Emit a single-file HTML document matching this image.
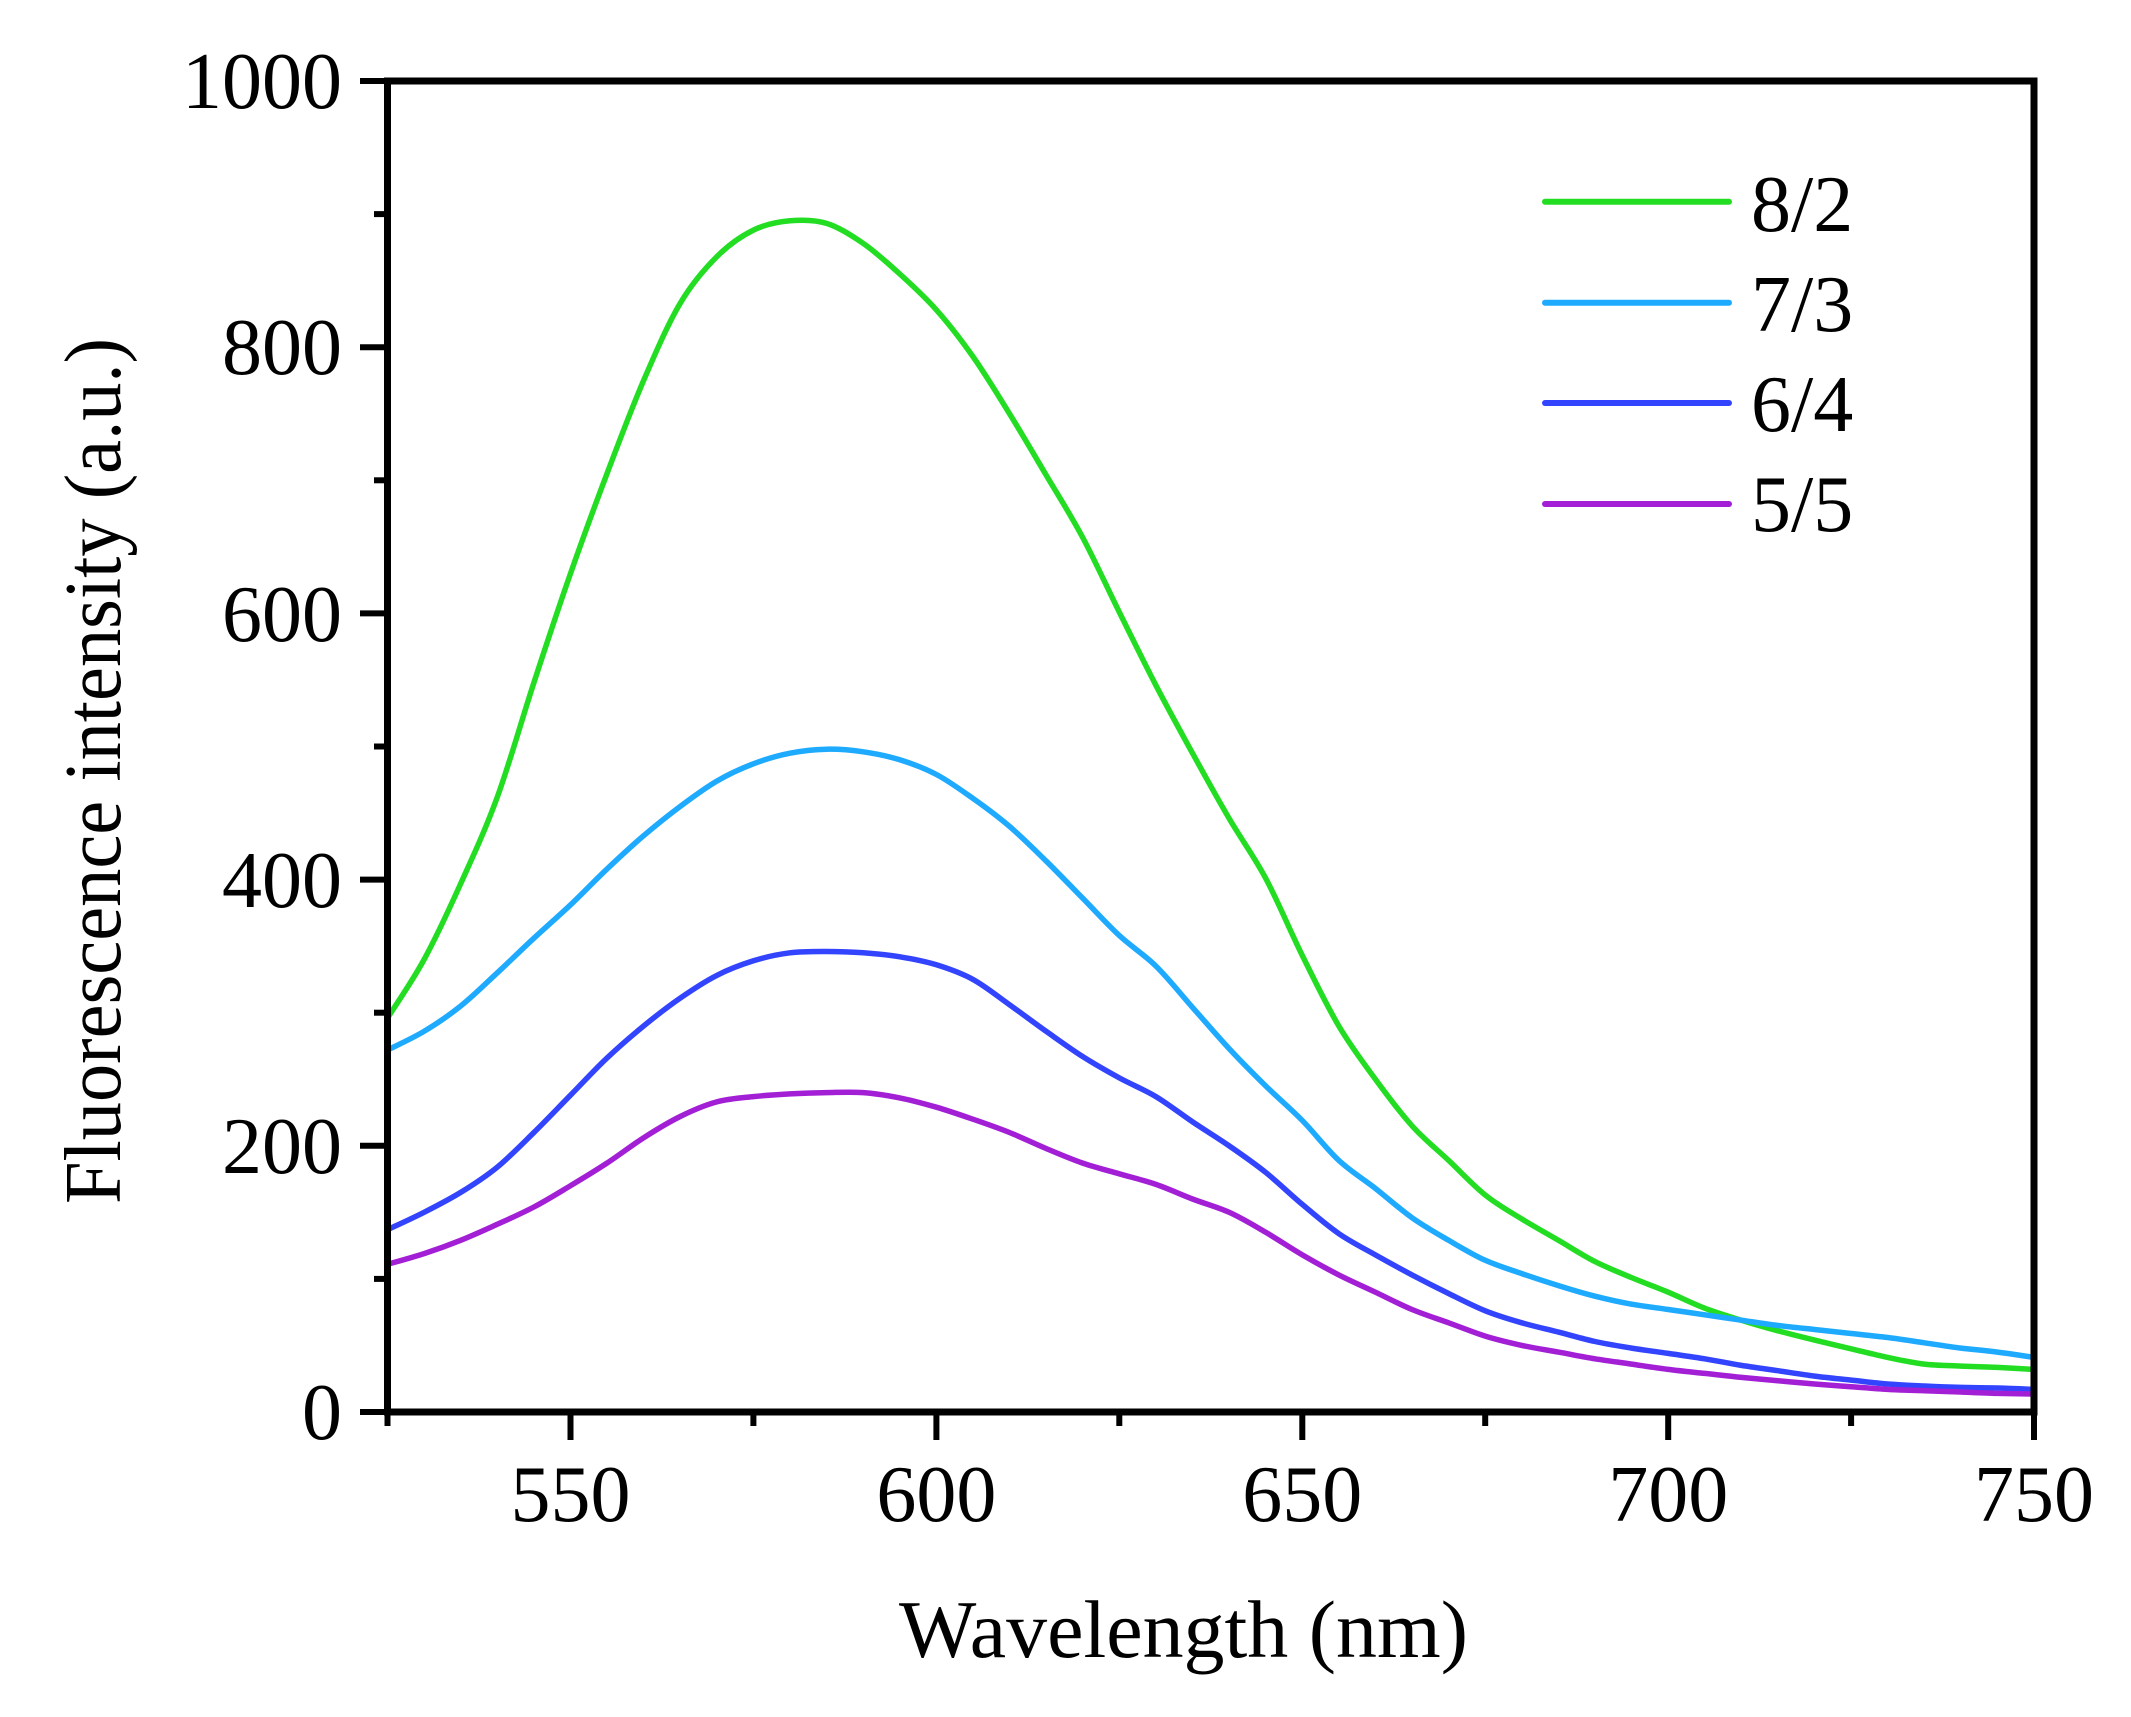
<!DOCTYPE html>
<html>
<head>
<meta charset="utf-8">
<style>
  html, body { margin:0; padding:0; background:#ffffff; }
  body { width:2131px; height:1717px; overflow:hidden; }
  svg { display:block; }
  text { font-family: "Liberation Serif", "Times New Roman", serif; fill:#000; }
</style>
</head>
<body>
<svg id="chart" width="2131" height="1717" viewBox="0 0 2131 1717" xmlns="http://www.w3.org/2000/svg">
  <rect x="0" y="0" width="2131" height="1717" fill="#ffffff"/>

  <!-- Curves -->
  <g id="curves" fill="none" stroke-width="5.5" stroke-linejoin="round" stroke-linecap="round">
    <!-- 8/2 green -->
    <polyline stroke="#22dd22" points="
      387.5,1018.0 424.1,959.5 460.7,883.6 497.3,797.1 533.9,682.6 570.5,573.5 607.0,473.6 643.6,380.5
      680.2,303.3 716.8,256.7 753.4,230.1 790.0,220.8 826.6,223.4 863.2,243.4 899.8,274.0 936.4,309.9
      972.9,356.5 1009.5,413.7 1046.1,475.0 1082.7,537.5 1119.3,612.1 1155.9,685.3 1192.5,753.2 1229.1,818.4
      1265.7,878.3 1302.3,955.5 1338.8,1026.0 1375.4,1079.2 1412.0,1125.8 1448.6,1160.4 1485.2,1195.0 1521.8,1219.0
      1558.4,1240.3 1595.0,1261.6 1631.6,1277.6 1668.2,1292.2 1704.7,1308.2 1741.3,1320.2 1777.9,1330.8 1814.5,1340.1
      1851.1,1348.8 1887.7,1357.4 1924.3,1364.1 1960.9,1366.1 1997.5,1367.4 2034.0,1369.4"/>
    <!-- 7/3 cyan -->
    <polyline stroke="#1eaaff" points="
      387.5,1050.0 424.1,1031.3 460.7,1006.0 497.3,972.8 533.9,938.2 570.5,904.9 607.0,869.0 643.6,835.7
      680.2,806.4 716.8,781.1 753.4,763.8 790.0,753.2 826.6,749.2 863.2,751.8 899.8,759.8 936.4,774.5
      972.9,798.4 1009.5,826.4 1046.1,861.0 1082.7,898.2 1119.3,935.5 1155.9,966.1 1192.5,1007.4 1229.1,1048.6
      1265.7,1085.9 1302.3,1120.5 1338.8,1160.4 1375.4,1188.4 1412.0,1217.7 1448.6,1240.3 1485.2,1260.3 1521.8,1273.6
      1558.4,1285.6 1595.0,1296.2 1631.6,1304.2 1668.2,1309.5 1704.7,1314.8 1741.3,1320.2 1777.9,1325.5 1814.5,1329.5
      1851.1,1333.5 1887.7,1337.5 1924.3,1342.8 1960.9,1348.1 1997.5,1352.1 2034.0,1357.4"/>
    <!-- 6/4 blue -->
    <polyline stroke="#3344ff" points="
      387.5,1229.7 424.1,1212.3 460.7,1192.4 497.3,1167.1 533.9,1132.5 570.5,1095.2 607.0,1058.0 643.6,1026.0
      680.2,998.1 716.8,975.4 753.4,960.8 790.0,952.8 826.6,951.5 863.2,952.8 899.8,956.8 936.4,964.8
      972.9,979.4 1009.5,1004.7 1046.1,1031.3 1082.7,1056.6 1119.3,1077.9 1155.9,1096.6 1192.5,1121.8 1229.1,1145.8
      1265.7,1172.4 1302.3,1204.4 1338.8,1233.6 1375.4,1254.9 1412.0,1274.9 1448.6,1293.5 1485.2,1310.8 1521.8,1322.8
      1558.4,1332.1 1595.0,1341.5 1631.6,1348.1 1668.2,1353.4 1704.7,1358.8 1741.3,1365.4 1777.9,1370.7 1814.5,1376.1
      1851.1,1380.1 1887.7,1384.0 1924.3,1386.0 1960.9,1387.4 1997.5,1388.0 2034.0,1389.4"/>
    <!-- 5/5 purple -->
    <polyline stroke="#a21fd6" points="
      387.5,1264.3 424.1,1253.6 460.7,1240.3 497.3,1224.3 533.9,1207.0 570.5,1185.7 607.0,1163.1 643.6,1137.8
      680.2,1116.5 716.8,1101.9 753.4,1096.6 790.0,1093.9 826.6,1092.6 863.2,1092.6 899.8,1097.9 936.4,1107.2
      972.9,1119.2 1009.5,1132.5 1046.1,1148.5 1082.7,1163.1 1119.3,1173.8 1155.9,1184.4 1192.5,1199.0 1229.1,1212.3
      1265.7,1232.3 1302.3,1254.9 1338.8,1274.9 1375.4,1292.2 1412.0,1309.5 1448.6,1322.8 1485.2,1336.1 1521.8,1345.4
      1558.4,1352.1 1595.0,1358.8 1631.6,1364.1 1668.2,1369.4 1704.7,1373.4 1741.3,1377.4 1777.9,1380.7 1814.5,1384.0
      1851.1,1386.7 1887.7,1389.4 1924.3,1390.7 1960.9,1392.0 1997.5,1393.4 2034.0,1394.0"/>
  </g>

  <!-- Axes frame -->
  <rect x="387.5" y="81" width="1646.5" height="1331" fill="none" stroke="#000" stroke-width="7"/>

  <!-- Y ticks -->
  <g stroke="#000" stroke-width="6">
    <line x1="360" y1="1412" x2="388" y2="1412"/>
    <line x1="360" y1="1145.8" x2="388" y2="1145.8"/>
    <line x1="360" y1="879.6" x2="388" y2="879.6"/>
    <line x1="360" y1="613.4" x2="388" y2="613.4"/>
    <line x1="360" y1="347.2" x2="388" y2="347.2"/>
    <line x1="360" y1="81" x2="388" y2="81"/>
    <line x1="374" y1="1278.9" x2="388" y2="1278.9"/>
    <line x1="374" y1="1012.7" x2="388" y2="1012.7"/>
    <line x1="374" y1="746.5" x2="388" y2="746.5"/>
    <line x1="374" y1="480.3" x2="388" y2="480.3"/>
    <line x1="374" y1="214.1" x2="388" y2="214.1"/>
  </g>
  <!-- X ticks -->
  <g stroke="#000" stroke-width="6">
    <line x1="570.5" y1="1412" x2="570.5" y2="1440"/>
    <line x1="936.4" y1="1412" x2="936.4" y2="1440"/>
    <line x1="1302.3" y1="1412" x2="1302.3" y2="1440"/>
    <line x1="1668.2" y1="1412" x2="1668.2" y2="1440"/>
    <line x1="2034" y1="1412" x2="2034" y2="1440"/>
    <line x1="387.5" y1="1412" x2="387.5" y2="1426"/>
    <line x1="753.4" y1="1412" x2="753.4" y2="1426"/>
    <line x1="1119.3" y1="1412" x2="1119.3" y2="1426"/>
    <line x1="1485.2" y1="1412" x2="1485.2" y2="1426"/>
    <line x1="1851.1" y1="1412" x2="1851.1" y2="1426"/>
  </g>

  <!-- Y tick labels -->
  <g font-size="80" text-anchor="end">
    <text x="342" y="1439">0</text>
    <text x="342" y="1173">200</text>
    <text x="342" y="907">400</text>
    <text x="342" y="641">600</text>
    <text x="342" y="374">800</text>
    <text x="342" y="108">1000</text>
  </g>
  <!-- X tick labels -->
  <g font-size="80" text-anchor="middle">
    <text x="570.5" y="1521">550</text>
    <text x="936.4" y="1521">600</text>
    <text x="1302.3" y="1521">650</text>
    <text x="1668.2" y="1521">700</text>
    <text x="2034" y="1521">750</text>
  </g>

  <!-- Axis titles -->
  <text x="899" y="1657" font-size="82" textLength="569" lengthAdjust="spacingAndGlyphs">Wavelength (nm)</text>
  <text transform="translate(120,771) rotate(-90)" font-size="80" text-anchor="middle" textLength="866" lengthAdjust="spacingAndGlyphs">Fluorescence intensity (a.u.)</text>

  <!-- Legend -->
  <g stroke-width="6" stroke-linecap="round">
    <line x1="1545" y1="201.7" x2="1729" y2="201.7" stroke="#22dd22"/>
    <line x1="1545" y1="302.7" x2="1729" y2="302.7" stroke="#1eaaff"/>
    <line x1="1545" y1="403" x2="1729" y2="403" stroke="#3344ff"/>
    <line x1="1545" y1="504" x2="1729" y2="504" stroke="#a21fd6"/>
  </g>
  <g font-size="80">
    <text x="1751" y="231">8/2</text>
    <text x="1751" y="331">7/3</text>
    <text x="1751" y="431">6/4</text>
    <text x="1751" y="531">5/5</text>
  </g>
</svg>
<script>
(function(){
  var NS = "http://www.w3.org/2000/svg";
  var polys = document.querySelectorAll('#curves polyline');
  for (var k = 0; k < polys.length; k++) {
    var pl = polys[k];
    var raw = pl.getAttribute('points').trim().split(/\s+/);
    var p = raw.map(function(s){ var a = s.split(','); return [parseFloat(a[0]), parseFloat(a[1])]; });
    var n = p.length;
    var d = 'M' + p[0][0] + ',' + p[0][1];
    for (var i = 0; i < n - 1; i++) {
      var p0 = p[i > 0 ? i - 1 : i], p1 = p[i], p2 = p[i + 1], p3 = p[i + 2 < n ? i + 2 : i + 1];
      var c1x = p1[0] + (p2[0] - p0[0]) / 6, c1y = p1[1] + (p2[1] - p0[1]) / 6;
      var c2x = p2[0] - (p3[0] - p1[0]) / 6, c2y = p2[1] - (p3[1] - p1[1]) / 6;
      d += ' C' + c1x.toFixed(1) + ',' + c1y.toFixed(1) + ' ' + c2x.toFixed(1) + ',' + c2y.toFixed(1) + ' ' + p2[0] + ',' + p2[1];
    }
    var path = document.createElementNS(NS, 'path');
    path.setAttribute('d', d);
    path.setAttribute('stroke', pl.getAttribute('stroke'));
    pl.parentNode.replaceChild(path, pl);
  }
})();
</script>
</body>
</html>
